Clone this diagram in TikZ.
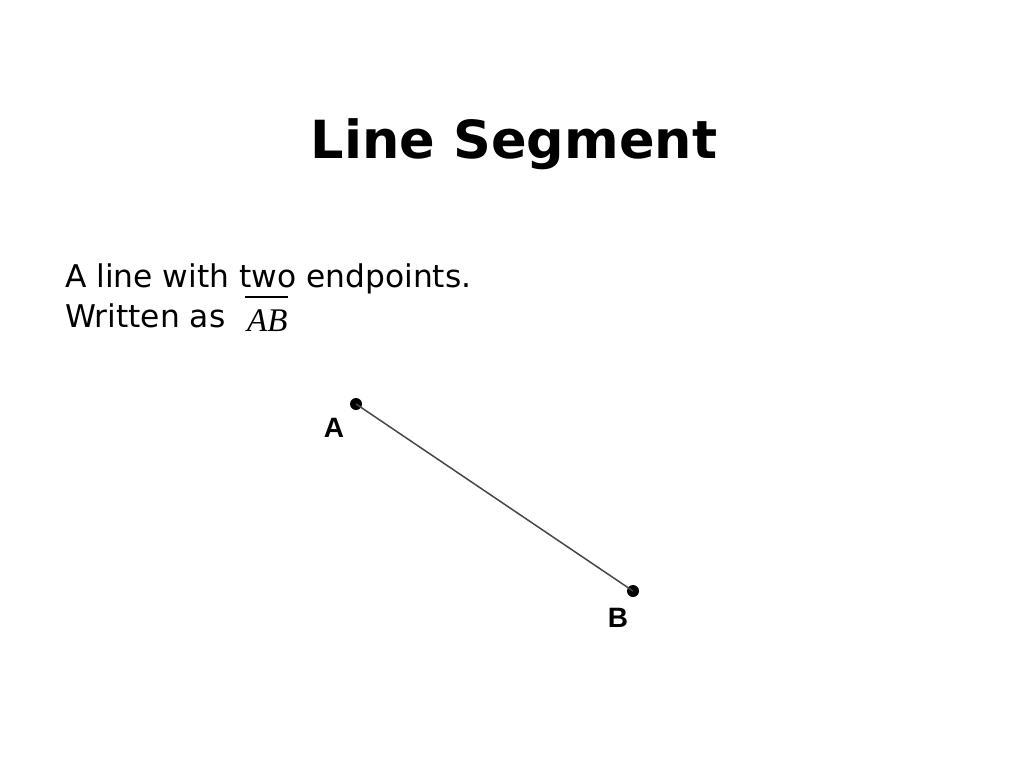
\documentclass[tikz,border=0pt]{standalone}
\usepackage{fontspec}
\setmainfont{DejaVu Sans}
\newfontfamily\titlefont{DejaVu Sans}
\newfontfamily\bodyfont{DejaVu Sans}
\newfontfamily\labfont{Liberation Sans}
\newfontfamily\mathlikefont{Liberation Serif}
\begin{document}
\begin{tikzpicture}[x=1pt,y=-1pt,
  titlestyle/.style={font=\titlefont\bfseries\fontsize{52.5}{60}\selectfont, inner sep=0pt, anchor=base},
  bodystyle/.style={font=\bodyfont\fontsize{31.3}{36}\selectfont, inner sep=0pt, anchor=base west},
  ptlabel/.style={font=\labfont\bfseries\fontsize{28}{32}\selectfont, inner sep=0pt, anchor=base},
  dot/.style={circle, fill=black, inner sep=0pt, minimum size=12pt},
  segline/.style={draw=black!72, line width=1.5pt}]
\useasboundingbox (0,0) rectangle (1024,768);
\fill[white] (0,0) rectangle (1024,768);
\node[titlestyle] (title) at (514,158) {Line Segment};
\node[bodystyle] (l1) at (65,287) {A line with two endpoints.};
\node[bodystyle] (l2) at (65,327) {Written as};
\node[font=\mathlikefont\itshape\fontsize{33}{36}\selectfont, inner sep=0pt, anchor=base west] (ab) at (247,331) {AB};
\draw[line width=1.6pt] ([xshift=-2pt,yshift=12pt]ab.north west) -- ([yshift=12pt]ab.north east);
\node[dot] (A) at (356,404) {};
\node[dot] (B) at (633,591) {};
\draw[segline] (A.center) -- (B.center);
\node[ptlabel] (la) at (334,437) {A};
\node[ptlabel] (lb) at (618,627) {B};
\end{tikzpicture}
\end{document}
